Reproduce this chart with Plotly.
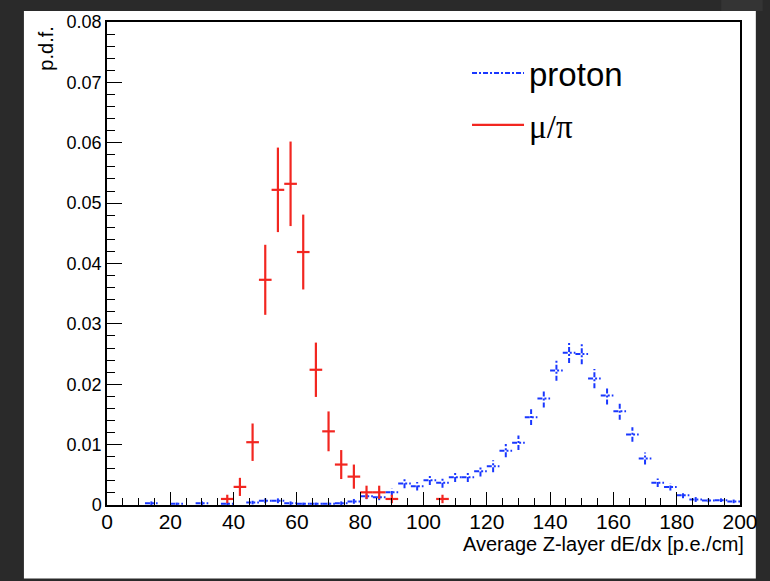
import plotly.graph_objects as go

# ---------------- data ----------------
BIN_WIDTH = 4.0

mupi_x = [38, 42, 46, 50, 54, 58, 62, 66, 70, 74, 78, 82, 86, 90, 106]
mupi_y = [0.0010, 0.0030, 0.0104, 0.0373, 0.0522, 0.0532, 0.0419, 0.0224,
          0.0122, 0.0067, 0.0047, 0.0021, 0.0021, 0.0010, 0.0010]
mupi_err = [0.0007, 0.0015, 0.0031, 0.0058, 0.0070, 0.0070, 0.0062, 0.0045,
            0.0033, 0.0024, 0.0020, 0.0011, 0.0011, 0.0007, 0.0007]

proton_x = [14, 22, 30, 38, 46, 50, 54, 58, 62, 66, 70, 74, 78, 82, 86, 90,
            94, 98, 102, 106, 110, 114, 118, 122, 126, 130, 134, 138, 142,
            146, 150, 154, 158, 162, 166, 170, 174, 178, 182, 186, 190, 194, 198]
proton_y = [0.0003, 0.0002, 0.0003, 0.0002, 0.0004, 0.0007, 0.0007, 0.0003,
            0.0002, 0.0002, 0.0002, 0.0003, 0.0006, 0.00146, 0.0013, 0.0021,
            0.00356, 0.0031, 0.0041, 0.00367, 0.0046, 0.0046, 0.0056, 0.00643,
            0.0090, 0.0103, 0.01454, 0.01763, 0.02227, 0.0252, 0.0250, 0.02094,
            0.01813, 0.01553, 0.01167, 0.0077, 0.00367, 0.0030, 0.00162,
            0.00091, 0.00075, 0.0008, 0.0006]
proton_err = [0.0003, 0.0002, 0.0003, 0.0002, 0.0003, 0.0004, 0.0004, 0.0003,
              0.0002, 0.0002, 0.0002, 0.0003, 0.0004, 0.0005, 0.0005, 0.0006,
              0.0008, 0.0007, 0.0008, 0.0008, 0.0008, 0.0008, 0.0009, 0.0010,
              0.0011, 0.0012, 0.0013, 0.0015, 0.0017, 0.0017, 0.0017, 0.0016,
              0.0015, 0.0014, 0.0012, 0.0010, 0.0007, 0.0006, 0.0005,
              0.0004, 0.0003, 0.0003, 0.0003]

x_tick_vals = [0, 20, 40, 60, 80, 100, 120, 140, 160, 180, 200]
y_tick_vals = [0, 0.01, 0.02, 0.03, 0.04, 0.05, 0.06, 0.07, 0.08]

RED = "rgb(242,38,32)"
BLUE = "rgb(25,55,255)"


def cross_path(xs, ys, errs, half):
    px, py = [], []
    for x, y, e in zip(xs, ys, errs):
        px += [x - half, x + half, None, x, x, None]
        py += [y, y, None, max(y - e, 0), y + e, None]
    return px, py


fig = go.Figure()

bx, by = cross_path(proton_x, proton_y, proton_err, BIN_WIDTH / 2)
fig.add_trace(go.Scatter(
    x=bx, y=by, mode="lines", name="proton", legendgroup="p",
    line=dict(color=BLUE, width=2, dash="5px,2px,2px,2px"),
    connectgaps=False, hoverinfo="skip"))

rx, ry = cross_path(mupi_x, mupi_y, mupi_err, BIN_WIDTH / 2)
fig.add_trace(go.Scatter(
    x=rx, y=ry, mode="lines",
    name='<span style="font-family:Liberation Serif">μ/π</span>',
    legendgroup="m",
    line=dict(color=RED, width=2.2),
    connectgaps=False, hoverinfo="skip"))

# layout geometry (pixels)
L, R, T, B = 107, 747, 22, 505.5
W, H = 770, 581
pw, ph = R - L, B - T


def px2x(p):
    return (p - L) / pw


def py2y(p):
    return (B - p) / ph


shapes = [
    dict(type="rect", xref="paper", yref="paper",
         x0=px2x(23), x1=px2x(763), y0=py2y(579), y1=py2y(11),
         fillcolor="white", line=dict(width=0), layer="below"),
    dict(type="rect", xref="paper", yref="paper",
         x0=px2x(728), x1=px2x(770), y0=py2y(11), y1=py2y(0),
         fillcolor="#343434", line=dict(width=0), layer="below"),
]

annotations = [
    dict(text="Average Z-layer dE/dx [p.e./cm]", xref="paper", yref="paper",
         x=1.0, y=py2y(545), xanchor="right", yanchor="middle", showarrow=False,
         xshift=6,
         font=dict(family="Liberation Sans, Arial", size=20, color="black")),
    dict(text="p.d.f.", xref="paper", yref="paper", textangle=-90,
         x=px2x(45), y=py2y(49), xanchor="center", yanchor="middle",
         showarrow=False,
         font=dict(family="Liberation Sans, Arial", size=20, color="black")),
]

fig.update_layout(
    width=W, height=H,
    margin=dict(l=L, r=W - R, t=T, b=H - B, pad=0),
    paper_bgcolor="#2a2a2a",
    plot_bgcolor="white",
    shapes=shapes,
    annotations=annotations,
    showlegend=True,
    legend=dict(x=px2x(471), y=py2y(45), xanchor="left", yanchor="top",
                bgcolor="rgba(0,0,0,0)", itemwidth=52,
                font=dict(family="Liberation Sans, Arial", size=33, color="black"),
                tracegroupgap=6),
    xaxis=dict(range=[0, 200], tickvals=x_tick_vals,
               ticks="inside", ticklen=13, tickwidth=1, tickcolor="black",
               ticklabelstandoff=-3,
               minor=dict(ticks="inside", ticklen=7, dtick=5, tickwidth=1,
                          tickcolor="black"),
               showline=True, linecolor="black", linewidth=1.5, mirror=True,
               showgrid=False, zeroline=False,
               tickfont=dict(family="Liberation Sans, Arial", size=21, color="black")),
    yaxis=dict(range=[0, 0.08], tickvals=y_tick_vals,
               ticks="inside", ticklen=15, tickwidth=1, tickcolor="black",
               minor=dict(ticks="inside", ticklen=8, dtick=0.002, tickwidth=1,
                          tickcolor="black"),
               showline=True, linecolor="black", linewidth=1.5, mirror=True,
               showgrid=False, zeroline=False,
               tickfont=dict(family="Liberation Sans, Arial", size=18, color="black")),
)

fig.write_html("out.html")
